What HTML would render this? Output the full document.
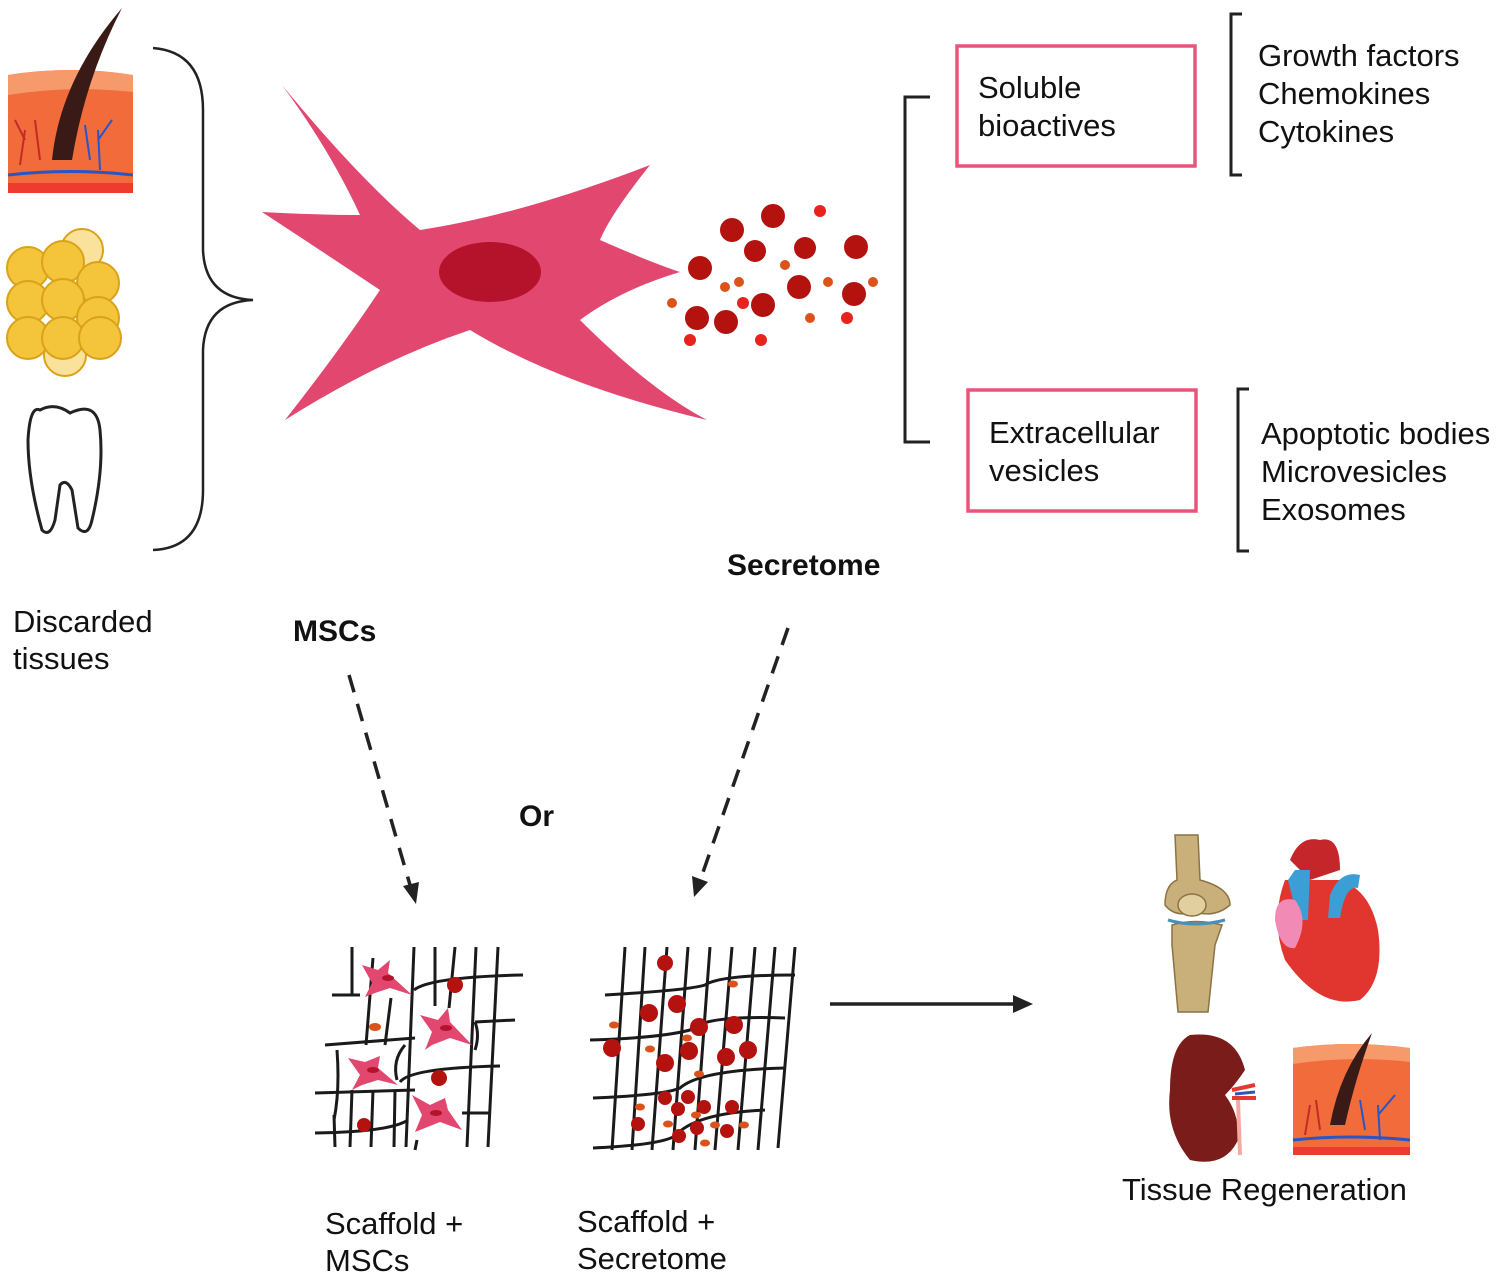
<!DOCTYPE html>
<html><head><meta charset="utf-8"><style>
html,body{margin:0;padding:0;background:#fff;}
svg{display:block}
text{font-family:"Liberation Sans",Arial,sans-serif;fill:#111}
</style></head><body>
<svg width="1500" height="1278" viewBox="0 0 1500 1278" xmlns="http://www.w3.org/2000/svg">
<g>
<path d="M8 75 Q70 65 133 75 L133 193 L8 193 Z" fill="#f26b3a"/>
<path d="M8 75 Q70 65 133 75 L133 92 Q70 85 8 95 Z" fill="#f79a6b"/>
<path d="M8 175 Q70 168 133 175" stroke="#2a55c4" stroke-width="3" fill="none"/>
<rect x="8" y="183" width="125" height="10" fill="#ef3b2f"/>
<path d="M52 160 Q60 80 122 8 Q85 80 72 160 Z" fill="#3a1a16"/>
<path d="M20 165 L25 130 M25 140 L15 120 M40 160 L35 120" stroke="#c42a2a" stroke-width="2" fill="none"/>
<path d="M100 170 L98 130 M98 140 L112 120 M90 160 L85 125" stroke="#2a55c4" stroke-width="2" fill="none"/>
</g>
<g fill="#f4c43a" stroke="#d9a21a" stroke-width="2">
<circle cx="82" cy="250" r="21" fill="#fbe29a"/>
<circle cx="65" cy="355" r="21" fill="#fbe29a"/>
<circle cx="28" cy="268" r="21"/><circle cx="63" cy="262" r="21"/><circle cx="98" cy="283" r="21"/>
<circle cx="28" cy="302" r="21"/><circle cx="63" cy="300" r="21"/><circle cx="98" cy="318" r="21"/>
<circle cx="28" cy="338" r="21"/><circle cx="63" cy="338" r="21"/><circle cx="100" cy="338" r="21"/>
</g>
<path d="M40 410 Q30 405 28 440 Q28 480 42 530 Q50 538 55 520 L60 485 Q66 478 72 490 L78 528 Q88 538 92 520 Q104 470 100 430 Q97 400 70 413 Q55 402 40 410 Z" fill="#fff" stroke="#222" stroke-width="3"/>
<path d="M153 48 Q203 52 203 110 L203 250 Q205 298 253 300 Q205 302 203 350 L203 490 Q203 548 153 550" fill="none" stroke="#222" stroke-width="2.5"/>
<text x="13" y="632" font-size="31">Discarded</text>
<text x="13" y="669" font-size="31">tissues</text>
<path d="M282 85 Q360 180 420 230 Q520 215 650 165 Q610 215 600 240 Q650 262 680 272 Q620 290 580 320 Q650 390 707 420 Q560 385 470 330 Q380 360 285 420 Q340 350 380 290 Q320 250 262 212 Q320 215 360 215 Q330 150 282 85 Z" fill="#e2476f"/>
<ellipse cx="490" cy="272" rx="51" ry="30" fill="#b5132b"/>
<g fill="#b3120f">
<circle cx="732" cy="230" r="12"/><circle cx="773" cy="216" r="12"/><circle cx="755" cy="251" r="11"/><circle cx="805" cy="248" r="11"/><circle cx="856" cy="247" r="12"/><circle cx="700" cy="268" r="12"/><circle cx="799" cy="287" r="12"/><circle cx="854" cy="294" r="12"/><circle cx="763" cy="305" r="12"/><circle cx="697" cy="318" r="12"/><circle cx="726" cy="322" r="12"/>
</g>
<g fill="#e8221c"><circle cx="820" cy="211" r="6"/><circle cx="743" cy="303" r="6"/><circle cx="847" cy="318" r="6"/><circle cx="690" cy="340" r="6"/><circle cx="761" cy="340" r="6"/></g>
<g fill="#d9531a"><circle cx="725" cy="287" r="5"/><circle cx="739" cy="282" r="5"/><circle cx="785" cy="265" r="5"/><circle cx="828" cy="282" r="5"/><circle cx="873" cy="282" r="5"/><circle cx="672" cy="303" r="5"/><circle cx="810" cy="318" r="5"/></g>
<path d="M930 97 L905 97 L905 442 L930 442" fill="none" stroke="#222" stroke-width="3"/>
<rect x="957" y="46" width="238" height="120" fill="none" stroke="#e8557a" stroke-width="3.5"/>
<text x="978" y="98" font-size="31">Soluble</text>
<text x="978" y="136" font-size="31">bioactives</text>
<path d="M1242 14 L1231 14 L1231 175 L1242 175" fill="none" stroke="#222" stroke-width="3"/>
<text x="1258" y="66" font-size="31">Growth factors</text>
<text x="1258" y="104" font-size="31">Chemokines</text>
<text x="1258" y="142" font-size="31">Cytokines</text>
<rect x="968" y="390" width="228" height="121" fill="none" stroke="#e8557a" stroke-width="3.5"/>
<text x="989" y="443" font-size="31">Extracellular</text>
<text x="989" y="481" font-size="31">vesicles</text>
<path d="M1249 389 L1238 389 L1238 551 L1249 551" fill="none" stroke="#222" stroke-width="3"/>
<text x="1261" y="444" font-size="31">Apoptotic bodies</text>
<text x="1261" y="482" font-size="31">Microvesicles</text>
<text x="1261" y="520" font-size="31">Exosomes</text>
<text x="727" y="575" font-size="30" font-weight="bold">Secretome</text>
<text x="293" y="641" font-size="30" font-weight="bold">MSCs</text>
<text x="519" y="826" font-size="30" font-weight="bold">Or</text>
<line x1="349" y1="675" x2="410" y2="885" stroke="#222" stroke-width="3.5" stroke-dasharray="18,12"/>
<polygon points="416,904 403,886 419,882" fill="#222"/>
<line x1="788" y1="628" x2="701" y2="878" stroke="#222" stroke-width="3.5" stroke-dasharray="18,12"/>
<polygon points="694,897 692,876 708,882" fill="#222"/>
<g stroke="#1a1a1a" stroke-width="3" fill="none">
<path d="M352 947 L352 995 M373 958 L366 1045 M391 998 L385 1045 M414 947 L406 1147 M435 947 L435 1006 M455 947 L449 1008 M476 947 L467 1147 M498 947 L488 1147 M334 1115 L335 1147 M352 1090 L350 1147 M373 1090 L371 1147 M395 1090 L394 1147 M417 1140 L415 1150 M337 1050 Q340 1090 334 1120"/>
<path d="M332 995 L360 995 M414 990 Q430 977 523 975 M325 1045 L415 1038 M475 1022 L515 1020 M315 1093 L415 1090 M400 1082 Q410 1068 500 1066 M462 1113 L490 1113 M315 1133 Q390 1132 408 1120"/>
<path d="M405 1045 Q392 1060 397 1080 M475 1022 Q480 1035 475 1050"/>
</g>
<g fill="#e2476f"><path d="M362 965 L378 970 L390 960 L388 973 L412 995 L390 988 L375 993 L365 997 L372 983 Z"/><path d="M420 1015 L438 1020 L448 1008 L450 1022 L472 1045 L450 1038 L432 1045 L425 1050 L432 1032 Z"/><path d="M348 1058 L365 1062 L380 1056 L378 1068 L398 1085 L378 1080 L362 1085 L352 1090 L360 1075 Z"/><path d="M412 1095 L430 1105 L445 1098 L448 1110 L462 1130 L440 1122 L425 1128 L415 1132 L422 1115 Z"/></g>
<g fill="#b5132b"><ellipse cx="388" cy="978" rx="6" ry="3"/><ellipse cx="446" cy="1028" rx="6" ry="3"/><ellipse cx="373" cy="1070" rx="6" ry="3"/><ellipse cx="436" cy="1113" rx="6" ry="3"/></g>
<g fill="#b3120f"><circle cx="455" cy="985" r="8"/><circle cx="439" cy="1078" r="8"/><circle cx="364" cy="1125" r="7"/></g>
<ellipse cx="375" cy="1027" rx="6" ry="4" fill="#d9531a"/>
<g stroke="#1a1a1a" stroke-width="3" fill="none">
<path d="M625 947 L612 1150 M645 947 L632 1150 M667 947 L652 1150 M688 947 L673 1150 M710 947 L695 1150 M732 947 L715 1150 M755 947 L738 1150 M775 947 L758 1150 M795 947 L778 1148"/>
<path d="M605 995 Q690 990 705 985 Q720 975 795 975 M590 1040 Q660 1038 690 1030 Q705 1015 785 1018 M593 1098 Q665 1095 680 1088 Q700 1070 785 1068 M593 1148 Q660 1145 675 1136 Q695 1113 765 1110"/>
</g>
<g fill="#b3120f"><circle cx="665" cy="963" r="8"/><circle cx="649" cy="1013" r="9"/><circle cx="677" cy="1004" r="9"/><circle cx="699" cy="1027" r="9"/><circle cx="734" cy="1025" r="9"/><circle cx="612" cy="1048" r="9"/><circle cx="689" cy="1051" r="9"/><circle cx="665" cy="1063" r="9"/><circle cx="726" cy="1057" r="9"/><circle cx="748" cy="1050" r="9"/><circle cx="688" cy="1097" r="7"/><circle cx="665" cy="1098" r="7"/><circle cx="678" cy="1109" r="7"/><circle cx="704" cy="1107" r="7"/><circle cx="732" cy="1107" r="7"/><circle cx="638" cy="1124" r="7"/><circle cx="697" cy="1128" r="7"/><circle cx="727" cy="1131" r="7"/><circle cx="679" cy="1136" r="7"/></g>
<g fill="#d9531a"><ellipse cx="733" cy="984" rx="5" ry="3.5"/><ellipse cx="614" cy="1025" rx="5" ry="3.5"/><ellipse cx="650" cy="1049" rx="5" ry="3.5"/><ellipse cx="687" cy="1038" rx="5" ry="3.5"/><ellipse cx="699" cy="1074" rx="5" ry="3.5"/><ellipse cx="640" cy="1107" rx="5" ry="3.5"/><ellipse cx="696" cy="1115" rx="5" ry="3.5"/><ellipse cx="668" cy="1124" rx="5" ry="3.5"/><ellipse cx="715" cy="1125" rx="5" ry="3.5"/><ellipse cx="744" cy="1125" rx="5" ry="3.5"/><ellipse cx="705" cy="1143" rx="5" ry="3.5"/></g>
<line x1="830" y1="1004" x2="1015" y2="1004" stroke="#222" stroke-width="3.5"/>
<polygon points="1033,1004 1013,995 1013,1013" fill="#222"/>
<text x="325" y="1234" font-size="31">Scaffold +</text>
<text x="325" y="1271" font-size="31">MSCs</text>
<text x="577" y="1232" font-size="31">Scaffold +</text>
<text x="577" y="1269" font-size="31">Secretome</text>
<g fill="#c9b07a" stroke="#8a7444" stroke-width="1.5">
<path d="M1175 835 L1198 835 L1200 880 Q1230 888 1230 905 Q1215 918 1195 912 Q1175 918 1165 905 Q1165 885 1177 880 Z"/>
<path d="M1172 925 Q1195 918 1222 925 L1215 945 L1208 1012 L1178 1012 L1172 945 Z"/>
<ellipse cx="1192" cy="905" rx="14" ry="11" fill="#e1cfa0"/>
</g>
<path d="M1168 920 Q1195 928 1225 920" stroke="#4a8fb5" stroke-width="3" fill="none"/>
<path d="M1285 880 Q1270 920 1285 960 Q1320 1010 1360 1000 Q1385 980 1378 930 Q1370 890 1340 880 Z" fill="#e0362f"/>
<path d="M1290 860 Q1300 835 1320 840 Q1340 835 1340 870 L1310 880 Z" fill="#c4262a"/>
<path d="M1288 880 L1295 870 L1310 870 L1308 920 L1298 920 Z" fill="#3b9fd6"/>
<path d="M1330 895 Q1340 870 1360 875 L1358 888 Q1345 885 1340 918 L1328 918 Z" fill="#3b9fd6"/>
<path d="M1275 920 Q1275 895 1295 900 Q1310 920 1295 948 Q1280 950 1275 920 Z" fill="#f18ab5"/>
<path d="M1190 1035 Q1235 1030 1245 1070 Q1235 1085 1225 1095 Q1240 1115 1238 1140 Q1225 1168 1190 1160 Q1165 1130 1170 1090 Q1170 1045 1190 1035 Z" fill="#7a1d1a"/>
<path d="M1232 1090 L1255 1085 M1232 1098 L1256 1098" stroke="#e4392f" stroke-width="4"/>
<path d="M1235 1094 L1255 1092" stroke="#2a55c4" stroke-width="3"/>
<path d="M1238 1100 L1240 1155" stroke="#f4a9a0" stroke-width="4"/>
<g>
<path d="M1293 1048 Q1350 1040 1410 1048 L1410 1155 L1293 1155 Z" fill="#f26b3a"/>
<path d="M1293 1048 Q1350 1040 1410 1048 L1410 1062 Q1350 1055 1293 1064 Z" fill="#f79a6b"/>
<path d="M1293 1140 Q1350 1134 1410 1140" stroke="#2a55c4" stroke-width="3" fill="none"/>
<rect x="1293" y="1147" width="117" height="8" fill="#ef3b2f"/>
<path d="M1330 1125 Q1340 1070 1372 1033 Q1355 1080 1345 1125 Z" fill="#3a1a16"/>
<path d="M1380 1140 L1378 1105 M1378 1115 L1395 1095 M1365 1130 L1360 1100" stroke="#2a55c4" stroke-width="2" fill="none"/>
<path d="M1305 1135 L1310 1105 M1320 1130 L1316 1100" stroke="#c42a2a" stroke-width="2" fill="none"/>
</g>
<text x="1122" y="1200" font-size="31">Tissue Regeneration</text>
</svg>
</body></html>
